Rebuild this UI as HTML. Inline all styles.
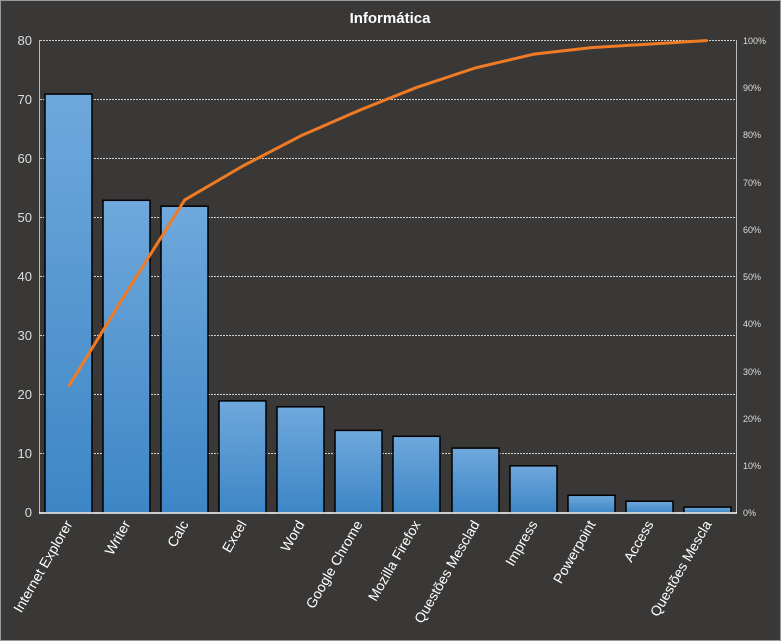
<!DOCTYPE html>
<html><head><meta charset="utf-8"><style>
html,body{margin:0;padding:0;background:#3a3836;}
svg{display:block;font-family:"Liberation Sans",sans-serif;}
</style></head><body>
<svg width="781" height="641" viewBox="0 0 781 641" xmlns="http://www.w3.org/2000/svg">
<defs><linearGradient id="g" x1="0" y1="0" x2="0" y2="1"><stop offset="0" stop-color="#6fa8dc"/><stop offset="1" stop-color="#3d86c6"/></linearGradient></defs>
<rect x="0.5" y="0.5" width="780" height="640" fill="#3a3836" stroke="#9a9a9a"/>
<text x="390" y="23" fill="#fff" font-size="15" font-weight="bold" text-anchor="middle">Informática</text>
<g stroke="#cfcfcf" stroke-dasharray="2,1" stroke-width="1">
<line x1="40" x2="736" y1="40.5" y2="40.5"/><line x1="40" x2="736" y1="99.5" y2="99.5"/>
<line x1="40" x2="736" y1="158.5" y2="158.5"/><line x1="40" x2="736" y1="217.5" y2="217.5"/>
<line x1="40" x2="736" y1="276.5" y2="276.5"/><line x1="40" x2="736" y1="335.5" y2="335.5"/>
<line x1="40" x2="736" y1="394.5" y2="394.5"/><line x1="40" x2="736" y1="453.5" y2="453.5"/>
</g>
<line x1="39.5" x2="39.5" y1="40" y2="513" stroke="#bbb"/>
<line x1="736.5" x2="736.5" y1="40" y2="513" stroke="#bbb"/>
<g fill="#ddd" font-size="13" text-anchor="end">
<text x="32" y="45">80</text><text x="32" y="104">70</text><text x="32" y="163">60</text><text x="32" y="222">50</text><text x="32" y="281">40</text><text x="32" y="340">30</text><text x="32" y="399">20</text><text x="32" y="458">10</text><text x="32" y="517">0</text>
</g>
<g fill="#ddd" font-size="9">
<text x="743" y="44">100%</text><text x="743" y="91">90%</text><text x="743" y="138">80%</text><text x="743" y="186">70%</text><text x="743" y="233">60%</text><text x="743" y="280">50%</text><text x="743" y="327">40%</text><text x="743" y="375">30%</text><text x="743" y="422">20%</text><text x="743" y="469">10%</text><text x="743" y="516">0%</text>
</g>
<g fill="url(#g)" stroke="#000" stroke-width="1.5">
<rect x="45" y="94.1" width="47" height="418.9"/>
<rect x="103" y="200.3" width="47" height="312.7"/>
<rect x="161" y="206.2" width="47" height="306.8"/>
<rect x="219" y="400.9" width="47" height="112.1"/>
<rect x="277" y="406.8" width="47" height="106.2"/>
<rect x="335" y="430.4" width="47" height="82.6"/>
<rect x="393" y="436.3" width="47" height="76.7"/>
<rect x="452" y="448.1" width="47" height="64.9"/>
<rect x="510" y="465.8" width="47" height="47.2"/>
<rect x="568" y="495.3" width="47" height="17.7"/>
<rect x="626" y="501.2" width="47" height="11.8"/>
<rect x="684" y="507.1" width="47" height="5.9"/>
</g>
<line x1="39" x2="737" y1="513" y2="513" stroke="#fff" stroke-width="1.5"/>
<polyline fill="none" stroke="#f07b25" stroke-width="3" stroke-linejoin="round" points="68.5,386.6 126.6,292.2 184.7,199.9 242.8,166.0 300.9,135.8 358.9,110.5 417,87.3 475.1,68.0 533.2,54.3 591.3,47.6 649.4,44.1 707.5,40.5"/>
<g fill="#fff" font-size="14" text-anchor="end">
<text transform="translate(73,524) rotate(-60)">Internet Explorer</text>
<text transform="translate(131,524) rotate(-60)">Writer</text>
<text transform="translate(189,524) rotate(-60)">Calc</text>
<text transform="translate(247,524) rotate(-60)">Excel</text>
<text transform="translate(305,524) rotate(-60)">Word</text>
<text transform="translate(363,524) rotate(-60)">Google Chrome</text>
<text transform="translate(421,524) rotate(-60)">Mozilla Firefox</text>
<text transform="translate(480,524) rotate(-60)">Questões Mesclad</text>
<text transform="translate(538,524) rotate(-60)">Impress</text>
<text transform="translate(596,524) rotate(-60)">Powerpoint</text>
<text transform="translate(654,524) rotate(-60)">Access</text>
<text transform="translate(712,524) rotate(-60)">Questões Mescla</text>
</g>
</svg>
</body></html>
